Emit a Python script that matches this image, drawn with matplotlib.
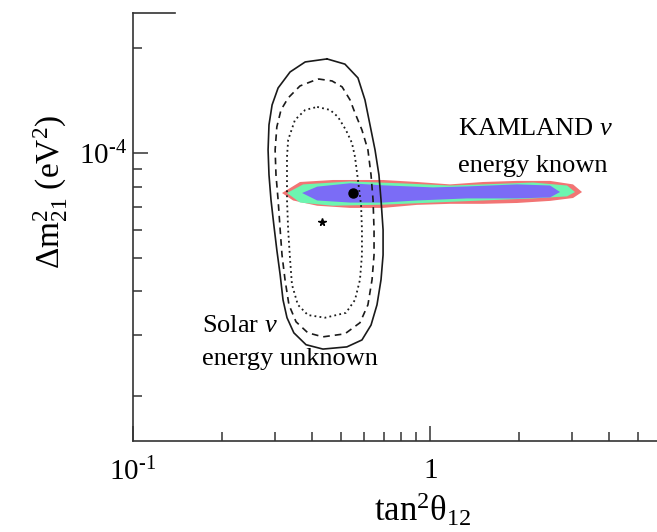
import numpy as np
import matplotlib
matplotlib.use("Agg")
import matplotlib.pyplot as plt
from matplotlib.ticker import NullFormatter

plt.rcParams['font.family'] = ['Liberation Serif', 'DejaVu Serif']
plt.rcParams['mathtext.fontset'] = 'custom'
plt.rcParams['mathtext.rm'] = 'Liberation Serif'
plt.rcParams['mathtext.it'] = 'Liberation Serif:italic'
plt.rcParams['mathtext.bf'] = 'Liberation Serif:bold'

# -----------------------------
# DATA (tan^2 theta12, dm^2 in 1e-5 eV^2)
# -----------------------------
# solar, outer (solid) contour
solid_x = [0.450, 0.517, 0.572, 0.604, 0.628, 0.653, 0.673, 0.684, 0.695, 0.695,
           0.684, 0.663, 0.633, 0.590, 0.525, 0.436, 0.3825, 0.348, 0.330, 0.320,
           0.313, 0.305, 0.298, 0.2915, 0.287, 0.285, 0.287, 0.294, 0.308, 0.338, 0.380]
solid_y = [18.63, 18.0, 16.43, 14.20, 12.04, 10.20, 8.65, 7.33, 6.01, 5.09,
           4.32, 3.66, 3.20, 2.90, 2.77, 2.73, 2.81, 3.04, 3.36, 3.78,
           4.46, 5.26, 6.21, 7.33, 8.65, 10.20, 12.04, 13.74, 15.37, 17.09, 18.26]

# solar, middle (dashed) contour
dashed_x = [0.420, 0.468, 0.506, 0.538, 0.559, 0.590, 0.618, 0.633, 0.643, 0.648,
            0.648, 0.638, 0.618, 0.581, 0.517, 0.436, 0.388, 0.354, 0.335, 0.325,
            0.3175, 0.313, 0.308, 0.303, 0.301, 0.305, 0.315, 0.333, 0.365]
dashed_y = [16.32, 16.10, 15.48, 14.20, 13.03, 11.64, 10.20, 8.65, 7.33, 6.01,
            5.09, 4.32, 3.66, 3.25, 3.02, 2.96, 3.04, 3.27, 3.66, 4.32,
            5.09, 6.01, 7.33, 8.65, 10.20, 11.88, 13.29, 14.39, 15.58]

# solar, inner (dotted) contour
dotted_x = [0.417, 0.461, 0.490, 0.521, 0.546, 0.559, 0.572, 0.586, 0.590, 0.590,
            0.581, 0.559, 0.521, 0.443, 0.388, 0.359, 0.343, 0.338, 0.333, 0.330,
            0.330, 0.330, 0.333, 0.351, 0.380]
dotted_y = [13.56, 13.29, 12.69, 11.64, 10.68, 9.74, 8.36, 7.09, 6.01, 5.09,
            4.32, 3.78, 3.47, 3.36, 3.42, 3.66, 4.18, 4.93, 6.01, 7.33,
            8.65, 9.74, 10.90, 12.44, 13.29]

# KamLAND regions
kl_red_x = [0.3175, 0.365, 0.471, 0.695, 0.904, 1.168, 1.509, 1.963, 2.536, 3.030,
            3.249, 3.030, 2.536, 1.963, 1.509, 1.168, 0.904, 0.695, 0.538, 0.417, 0.346]
kl_red_y = [7.67, 8.25, 8.36, 8.36, 8.25, 8.12, 8.25, 8.31, 8.31, 8.12,
            7.72, 7.42, 7.28, 7.18, 7.14, 7.14, 7.09, 6.95, 6.95, 7.05, 7.30]

kl_green_x = [0.330, 0.374, 0.538, 0.793, 1.168, 1.509, 2.223, 2.893, 3.077,
              2.893, 2.223, 1.509, 1.023, 0.695, 0.471, 0.365]
kl_green_y = [7.67, 8.12, 8.28, 8.18, 8.06, 8.12, 8.22, 8.06, 7.72,
              7.50, 7.40, 7.30, 7.20, 7.10, 7.05, 7.20]

kl_blue_x = [0.371, 0.417, 0.538, 0.695, 1.023, 1.332, 1.963, 2.536, 2.740,
             2.536, 1.963, 1.332, 0.904, 0.695, 0.538, 0.417]
kl_blue_y = [7.67, 8.00, 8.18, 8.07, 7.96, 8.01, 8.12, 8.06, 7.72,
             7.45, 7.40, 7.40, 7.30, 7.20, 7.20, 7.30]

# best fit points
kl_best = (0.551, 7.67)
solar_best = (0.433, 6.33)

scale = 1e-5

# -----------------------------
# FIGURE
# -----------------------------
fig = plt.figure(figsize=(6.57, 5.32), dpi=100)
ax = fig.add_axes([0.2024, 0.1711, 0.7976, 0.8045])
ax.set_xscale('log')
ax.set_yscale('log')

ax.fill(kl_red_x, np.array(kl_red_y) * scale, color='#f27474', lw=0, zorder=1)
ax.fill(kl_green_x, np.array(kl_green_y) * scale, color='#6cf5b0', lw=0, zorder=2)
ax.fill(kl_blue_x, np.array(kl_blue_y) * scale, color='#7b6cf6', lw=0, zorder=3)

line_col = '#1a1a1a'
ax.plot(solid_x + solid_x[:1], np.array(solid_y + solid_y[:1]) * scale,
        color=line_col, lw=1.2, zorder=4, solid_joinstyle='round')
ax.plot(dashed_x + dashed_x[:1], np.array(dashed_y + dashed_y[:1]) * scale,
        color=line_col, lw=1.2, ls=(0, (4, 3)), zorder=4)
ax.plot(dotted_x + dotted_x[:1], np.array(dotted_y + dotted_y[:1]) * scale,
        color=line_col, lw=1.3, ls=(0, (1, 1.8)), zorder=4)

ax.plot(kl_best[0], kl_best[1] * scale, 'o', color='black', ms=6.5, zorder=5)
ax.plot(solar_best[0], solar_best[1] * scale, '*', color='black', ms=5.5, zorder=5)

ax.set_xlim(0.1, 5.81)
ax.set_ylim(1.486e-5, 2.525e-4)

ax.set_xticks([0.1, 1], labels=[r'$10^{\text{-}1}$', r'$1$'])
ax.set_yticks([1e-4], labels=[r'$10^{\text{-}4}$'])
ax.xaxis.set_minor_formatter(NullFormatter())
ax.yaxis.set_minor_formatter(NullFormatter())

spine_col = '#333333'
for s in ['left', 'bottom', 'top']:
    ax.spines[s].set_color(spine_col)
    ax.spines[s].set_linewidth(1.2)
ax.spines['right'].set_visible(False)
ax.spines['top'].set_bounds(0.1, 0.1385)

ax.tick_params(which='both', direction='in', color=spine_col, width=1.1,
               top=False, right=False, labelsize=21)
ax.tick_params(which='major', length=11)
ax.tick_params(which='minor', length=6.5)
ax.tick_params(axis='x', pad=12)
ax.tick_params(axis='y', pad=4)

ax.set_xlabel(r'$\mathrm{tan}^2\mathrm{\theta}_{12}$', fontsize=25)
ax.xaxis.set_label_coords(0.553, -0.118)
ax.set_ylabel(r'$\Delta\mathrm{m}^2_{21}\ (\mathrm{eV}^2)$', fontsize=24)
ax.yaxis.set_label_coords(-0.12, 0.582)

ax.text(0.620, 0.715, r'KAMLAND $\nu$', transform=ax.transAxes,
        fontsize=19, va='baseline')
ax.text(0.620, 0.6285, 'energy known', transform=ax.transAxes,
        fontsize=19, va='baseline')
ax.text(0.1317, 0.2547, r'Solar $\nu$', transform=ax.transAxes,
        fontsize=19, va='baseline')
ax.text(0.1317, 0.1776, 'energy unknown', transform=ax.transAxes,
        fontsize=19, va='baseline')

fig.savefig('out.png', dpi=100)
